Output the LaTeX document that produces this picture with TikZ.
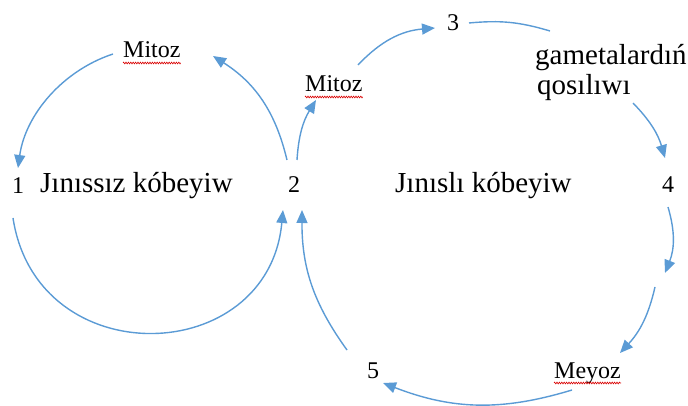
\documentclass[tikz,border=0pt]{standalone}
\usepackage{fontspec}
\setmainfont{Liberation Serif}
\usetikzlibrary{arrows.meta,decorations.pathmorphing}
\definecolor{arr}{HTML}{5B9BD5}
\begin{document}
\begin{tikzpicture}[x=1pt,y=-1pt,
  big/.style={inner sep=0pt, anchor=base west, font=\fontsize{29}{32}\selectfont},
  sml/.style={inner sep=0pt, anchor=base west, font=\fontsize{24}{26}\selectfont},
  conn/.style={draw=arr, line width=1.4pt, -{Triangle[length=13pt,width=11pt]}},
  plainc/.style={draw=arr, line width=1.4pt},
  squig/.style={draw=red!85!black, line width=0.6pt, decorate,
    decoration={zigzag, segment length=2.4pt, amplitude=0.9pt}}
]
\useasboundingbox (0,0) rectangle (688,406);

% labels
\node[sml] (mitozL) at (123,58) {Mitoz};
\node[sml] (mitozR) at (305,92) {Mitoz};
\node[sml] (meyoz) at (554,378) {Meyoz};
\node[sml] (n1) at (12,194) {1};
\node[sml] (n2) at (288,193) {2};
\node[sml] (n3) at (447,31) {3};
\node[sml] (n4) at (662,193) {4};
\node[sml] (n5) at (367,378) {5};
\node[big] (asex) at (40,193) {Jınıssız kóbeyiw};
\node[big] (sex) at (395,193) {Jınıslı kóbeyiw};
\node[big] (gam1) at (535,65) {gametalardıń};
\node[big] (gam2) at (537,95) {qosılıwı};

% spell-check underlines
\draw[squig] ([yshift=-5pt]mitozL.base west) -- ([yshift=-5pt]mitozL.base east);
\draw[squig] ([yshift=-5pt]mitozR.base west) -- ([yshift=-5pt]mitozR.base east);
\draw[squig] ([yshift=-5pt]meyoz.base west) -- ([yshift=-5pt]meyoz.base east);

% connector end points
\coordinate (l1s) at (113,54);  \coordinate (l1e) at (18,168);
\coordinate (l2s) at (287,160); \coordinate (l2e) at (213,56);
\coordinate (l3s) at (13,218);  \coordinate (l3e) at (283,210);
\coordinate (r1s) at (297,160); \coordinate (r1e) at (316,100);
\coordinate (r2s) at (358,65);  \coordinate (r2e) at (435,28);
\coordinate (r3s) at (469,23);  \coordinate (r3e) at (550,31);
\coordinate (r4s) at (633,103); \coordinate (r4e) at (665,158);
\coordinate (r5s) at (668,207); \coordinate (r5e) at (665,273);
\coordinate (r6s) at (655,287); \coordinate (r6e) at (620,353);
\coordinate (r7s) at (572,390); \coordinate (r7e) at (383,383);
\coordinate (r8s) at (347,350); \coordinate (r8e) at (302,210);

% left cycle
\draw[conn] (l1s) to[bend right=32, looseness=0.92] (l1e);
\draw[conn] (l2s) to[bend right=22] (l2e);
\draw[conn] (l3s) to[bend right=83, looseness=1.5] (l3e);

% right cycle
\draw[conn] (r1s) to[bend left=14] (r1e);
\draw[conn] (r2s) to[bend left=21] (r2e);
\draw[plainc] (r3s) to[bend left=11] (r3e);
\draw[conn] (r4s) to[bend left=14] (r4e);
\draw[conn] (r5s) to[bend left=19] (r5e);
\draw[conn] (r6s) to[bend left=15] (r6e);
\draw[conn] (r7s) to[bend left=19] (r7e);
\draw[conn] (r8s) to[bend left=18] (r8e);
\end{tikzpicture}
\end{document}
